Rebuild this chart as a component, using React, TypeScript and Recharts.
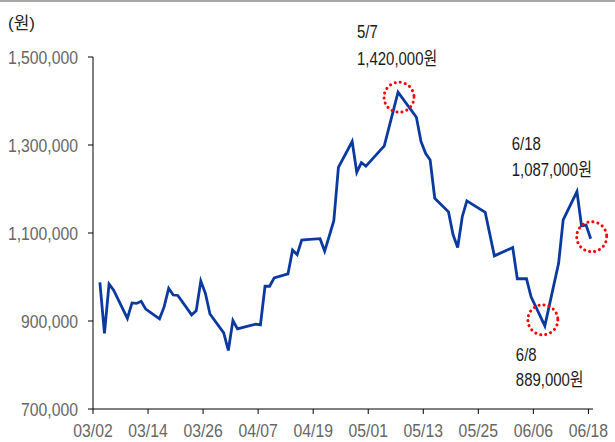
import { Line, LineChart, XAxis, YAxis } from 'recharts';

const START = new Date(2020, 2, 2);

const dates = [
  '03/03', '03/04', '03/05', '03/06', '03/09', '03/10', '03/11', '03/12', '03/13',
  '03/16', '03/17', '03/18', '03/19', '03/20', '03/23', '03/24', '03/25', '03/26',
  '03/27', '03/30', '03/31', '04/01', '04/02', '04/03', '04/06', '04/07', '04/08',
  '04/09', '04/10', '04/13', '04/14', '04/15', '04/16', '04/17', '04/20', '04/21',
  '04/22', '04/23', '04/24', '04/27', '04/28', '04/29', '04/30', '05/04', '05/07',
  '05/11', '05/12', '05/13', '05/14', '05/15', '05/18', '05/19', '05/20', '05/21',
  '05/22', '05/26', '05/28', '06/01', '06/02', '06/04', '06/05', '06/08', '06/11',
  '06/12', '06/15', '06/16', '06/17', '06/18',
];

const prices = [
  988000, 872000, 984000, 970000, 906000, 941000, 940000, 945000, 927000,
  905000, 932000, 974000, 959000, 958000, 914000, 923000, 991000, 963000,
  916000, 873000, 833000, 901000, 882000, 885000, 893000, 891000, 979000,
  979000, 998000, 1007000, 1061000, 1051000, 1084000, 1085000, 1087000, 1059000,
  1093000, 1128000, 1249000, 1308000, 1238000, 1260000, 1252000, 1298000, 1420000,
  1363000, 1308000, 1281000, 1266000, 1179000, 1148000, 1096000, 1067000, 1137000,
  1173000, 1147000, 1048000, 1067000, 996000, 996000, 955000, 889000, 1031000,
  1130000, 1194000, 1116000, 1118000, 1087000,
];

const tickDates = ['03/02', '03/14', '03/26', '04/07', '04/19', '05/01', '05/13', '05/25', '06/06', '06/18'];
const yTicks = [700000, 900000, 1100000, 1300000, 1500000];

// highlighted points
const calloutDates = ['05/07', '06/08', '06/18'];
const calloutTitles = ['5/7', '6/8', '6/18'];
const calloutPrices = ['1,420,000원', '889,000원', '1,087,000원'];

// where each callout's text sits relative to its point
const CALLOUT_LAYOUT: Record<string, { dx: number; dy1: number; dy2: number; cx: number; cy: number }> = {
  '05/07': { dx: -41, dy1: -54, dy2: -27, cx: 1, cy: 5 },
  '06/08': { dx: -29, dy1: 35, dy2: 60, cx: -2, cy: -6 },
  '06/18': { dx: -79, dy1: -89, dy2: -63, cx: 1, cy: -2 },
};

// no narrow face installed, so squeeze Liberation Sans horizontally
const FONT = '"Liberation Sans", Arial, "Noto Sans CJK KR", sans-serif';
const SQUEEZE = 0.83;

const dayOf = (md: string) => {
  const [m, d] = md.split('/').map(Number);
  return Math.round((new Date(2020, m - 1, d).getTime() - START.getTime()) / 86400000);
};

const tickDays = tickDates.map(dayOf);
const data = dates.map((d, i) => ({ date: d, x: dayOf(d) + 0.5, price: prices[i] }));

function NarrowText({ x, y, anchor, size, fill, dy, children }: any) {
  return (
    <text
      transform={`translate(${x},${y}) scale(${SQUEEZE},1)`}
      textAnchor={anchor}
      fontSize={size}
      fill={fill}
      fontFamily={FONT}
      dy={dy}
    >
      {children}
    </text>
  );
}

function YTick(props: any) {
  const { x, y, payload } = props;
  return (
    <NarrowText x={x} y={y} anchor="end" size={19} fill="#666" dy="0.36em">
      {Number(payload.value).toLocaleString('en-US')}
    </NarrowText>
  );
}

function XTick(props: any) {
  const { x, y, payload } = props;
  return (
    <NarrowText x={x} y={y} anchor="middle" size={19} fill="#666" dy="0.71em">
      {tickDates[tickDays.indexOf(payload.value)] ?? ''}
    </NarrowText>
  );
}

function CalloutDot(props: any) {
  const { cx, cy, payload, index } = props;
  const k = calloutDates.indexOf(payload.date);
  if (k < 0) return <g key={index} />;
  const l = CALLOUT_LAYOUT[payload.date];
  return (
    <g key={index}>
      <circle
        cx={cx + l.cx}
        cy={cy + l.cy}
        r={15}
        fill="none"
        stroke="#ff0000"
        strokeWidth={3}
        strokeDasharray="0.1 5"
        strokeLinecap="round"
      />
      <NarrowText x={cx + l.dx} y={cy + l.dy1} anchor="start" size={18} fill="#1a1a1a">
        {calloutTitles[k]}
      </NarrowText>
      <NarrowText x={cx + l.dx} y={cy + l.dy2} anchor="start" size={18} fill="#1a1a1a">
        {calloutPrices[k]}
      </NarrowText>
    </g>
  );
}

export default function App() {
  return (
    <div
      style={{
        position: 'absolute',
        left: 0,
        top: 0,
        width: 615,
        height: 442,
        background: '#fff',
        overflow: 'hidden',
      }}
    >
      <div style={{ position: 'absolute', left: 0, top: 0, width: 615, height: 2, background: '#a6a6a6' }} />
      <div
        style={{
          position: 'absolute',
          left: 8,
          top: 9,
          fontSize: 17,
          color: '#222',
          fontFamily: FONT,
        }}
      >
        (원)
      </div>
      <LineChart width={615} height={442} data={data} margin={{ top: 57, right: 22, bottom: 0, left: 0 }}>
        <XAxis
          type="number"
          dataKey="x"
          domain={[0, 109]}
          ticks={tickDays}
          height={33}
          tickSize={5}
          tickMargin={9}
          axisLine={{ stroke: '#000' }}
          tickLine={{ stroke: '#000' }}
          tick={<XTick />}
          interval={0}
        />
        <YAxis
          type="number"
          domain={[700000, 1500000]}
          ticks={yTicks}
          width={93}
          tickSize={5}
          tickMargin={10}
          axisLine={{ stroke: '#000' }}
          tickLine={{ stroke: '#000' }}
          tick={<YTick />}
          interval={0}
        />
        <Line
          type="linear"
          dataKey="price"
          stroke="#0a3a9f"
          strokeWidth={2.8}
          dot={CalloutDot}
          activeDot={false}
          isAnimationActive={false}
        />
      </LineChart>
    </div>
  );
}
